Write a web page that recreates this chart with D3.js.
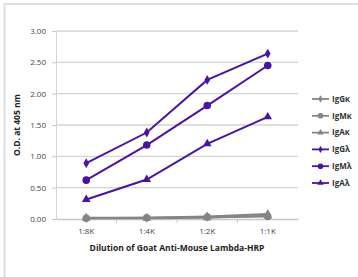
<!DOCTYPE html>
<html>
<head>
<meta charset="utf-8">
<script src="https://cdn.jsdelivr.net/npm/d3@7"></script>
<style>
  body { margin: 0; background: #fff; }
  text { font-family: "Open Sans", "Noto Sans", sans-serif; }
</style>
</head>
<body>
<div id="chart"></div>
<script>
// dilutions along the x axis
var dilutions = ['1:8K', '1:4K', '1:2K', '1:1K'];
var yTicks = [0, 0.5, 1, 1.5, 2, 2.5, 3];

// O.D. readings, one array per antibody
var igGk = [0.02, 0.02, 0.04, 0.08];
var igMk = [0.01, 0.02, 0.03, 0.04];
var igAk = [0.01, 0.01, 0.02, 0.05];
var igGl = [0.89, 1.38, 2.22, 2.64];
var igMl = [0.62, 1.18, 1.81, 2.45];
var igAl = [0.31, 0.63, 1.20, 1.63];

var seriesNames = ['IgG\u03ba', 'IgM\u03ba', 'IgA\u03ba', 'IgG\u03bb', 'IgM\u03bb', 'IgA\u03bb'];

var gray = '#858585';
var purple = '#4b14a0';

var series = [
  { name: seriesNames[0], values: igGk, color: gray, shape: d3.symbolDiamond },
  { name: seriesNames[1], values: igMk, color: gray, shape: d3.symbolCircle },
  { name: seriesNames[2], values: igAk, color: gray, shape: d3.symbolTriangle },
  { name: seriesNames[3], values: igGl, color: purple, shape: d3.symbolDiamond },
  { name: seriesNames[4], values: igMl, color: purple, shape: d3.symbolCircle },
  { name: seriesNames[5], values: igAl, color: purple, shape: d3.symbolTriangle }
];

// marker area per shape
var markSize = function (shape) {
  if (shape === d3.symbolCircle) return 45;
  if (shape === d3.symbolTriangle) return 32;
  return 28;
};

var width = 358, height = 277;
var margin = { top: 31, right: 60, bottom: 58, left: 56 };

var svg = d3.select('#chart').append('svg')
  .attr('width', width)
  .attr('height', height);

// faint frame around the picture
svg.append('rect')
  .attr('x', 4.5).attr('y', 4)
  .attr('width', width).attr('height', height)
  .attr('fill', 'none')
  .attr('stroke', '#e0e0e0')
  .attr('stroke-width', 2);

var x = d3.scaleBand()
  .domain(dilutions)
  .range([margin.left, width - margin.right]);

var y = d3.scaleLinear()
  .domain([0, 3])
  .range([height - margin.bottom, margin.top]);

// gridlines
svg.append('g')
  .selectAll('line')
  .data(yTicks.slice(1))
  .join('line')
  .attr('x1', margin.left)
  .attr('x2', width - margin.right)
  .attr('y1', d => y(d))
  .attr('y2', d => y(d))
  .attr('stroke', '#d4d4d4')
  .attr('stroke-width', 1.3);

// y axis
var yAxis = svg.append('g')
  .attr('transform', `translate(${margin.left},0)`)
  .call(d3.axisLeft(y).tickValues(yTicks).tickFormat(d3.format('.2f')).tickSize(4).tickPadding(6));
yAxis.select('.domain').attr('stroke', '#d4d4d4');
yAxis.selectAll('.tick line').attr('stroke', '#c8c8c8');
yAxis.selectAll('text').attr('font-size', 8).attr('fill', '#444');

// x axis, ticks between categories
var xAxis = svg.append('g')
  .attr('transform', `translate(0,${y(0)})`)
  .call(d3.axisBottom(x).tickSize(0).tickPadding(9));
xAxis.select('.domain').attr('stroke', '#c8c8c8').attr('stroke-width', 1.3);
xAxis.selectAll('text').attr('font-size', 8).attr('fill', '#444');
svg.append('g')
  .selectAll('line')
  .data(dilutions.slice(1))
  .join('line')
  .attr('x1', d => x(d))
  .attr('x2', d => x(d))
  .attr('y1', y(0))
  .attr('y2', y(0) + 4)
  .attr('stroke', '#c8c8c8');

// axis titles
svg.append('text')
  .attr('transform', `translate(20,${(y(0) + y(3)) / 2}) rotate(-90)`)
  .attr('text-anchor', 'middle')
  .attr('font-size', 8.5)
  .attr('font-weight', 'bold')
  .attr('fill', '#222')
  .text('O.D. at 405 nm');

svg.append('text')
  .attr('x', (margin.left + width - margin.right) / 2)
  .attr('y', 251)
  .attr('text-anchor', 'middle')
  .attr('font-size', 8.5)
  .attr('font-weight', 'bold')
  .attr('fill', '#222')
  .text('Dilution of Goat Anti-Mouse Lambda-HRP');

var cx = d => x(d) + x.bandwidth() / 2;
var line = d3.line()
  .x((v, i) => cx(dilutions[i]))
  .y(v => y(v));

var groups = svg.append('g')
  .selectAll('g')
  .data(series)
  .join('g');

groups.append('path')
  .attr('d', d => line(d.values))
  .attr('fill', 'none')
  .attr('stroke', d => d.color)
  .attr('stroke-width', 2);

groups.each(function (s) {
  d3.select(this).selectAll('path.pt')
    .data(s.values)
    .join('path')
    .attr('class', 'pt')
    .attr('transform', (v, i) => `translate(${cx(dilutions[i])},${y(v)})`)
    .attr('d', d3.symbol().type(s.shape).size(markSize(s.shape)))
    .attr('fill', s.color);
});

// legend
var legend = svg.append('g')
  .selectAll('g')
  .data(series)
  .join('g')
  .attr('transform', (d, i) => `translate(312,${99 + i * 16.8})`);

legend.append('line')
  .attr('x1', 0).attr('x2', 17)
  .attr('stroke', d => d.color)
  .attr('stroke-width', 1.8);

legend.append('path')
  .attr('transform', 'translate(8.5,0)')
  .attr('d', d => d3.symbol().type(d.shape).size(markSize(d.shape) * 0.55)())
  .attr('fill', d => d.color);

legend.append('text')
  .attr('x', 20)
  .attr('dy', '0.35em')
  .attr('font-size', 8)
  .attr('font-weight', 'bold')
  .attr('fill', '#333')
  .text(d => d.name);
</script>
</body>
</html>
